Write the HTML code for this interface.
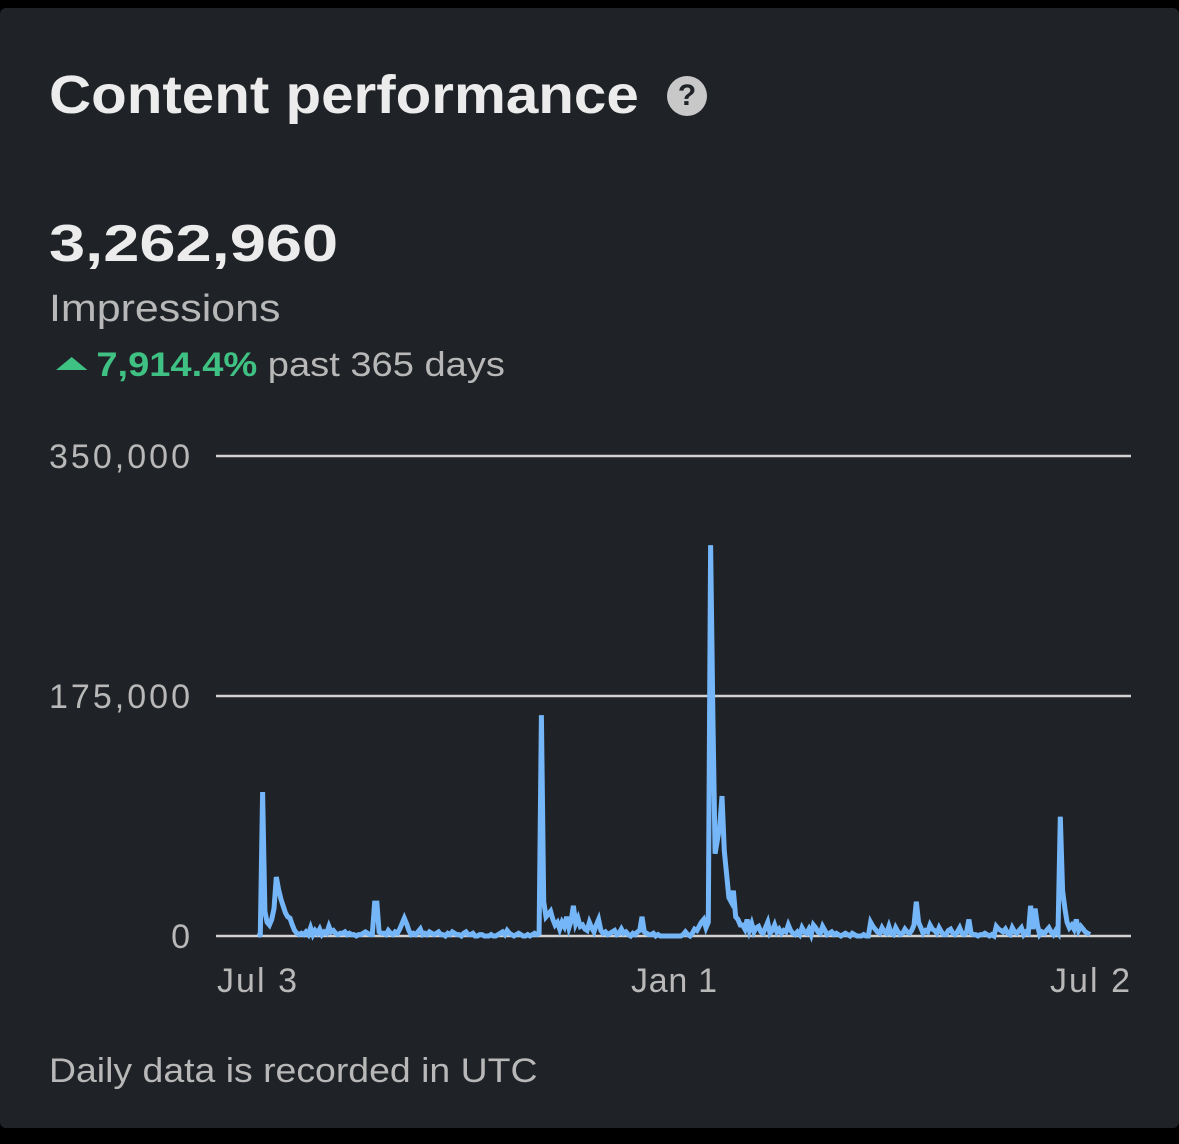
<!DOCTYPE html>
<html><head><meta charset="utf-8">
<style>
html,body{margin:0;padding:0;background:#000;width:1179px;height:1144px;overflow:hidden;font-family:"Liberation Sans",sans-serif;}
#card{position:absolute;left:0;top:8px;width:1179px;height:1120px;background:#1f2226;border-radius:6px;}
.t{position:absolute;white-space:nowrap;transform-origin:0 50%;}
</style></head><body>
<div id="card">
  <div class="t" style="left:49px;top:56px;font-size:54px;font-weight:bold;color:#ececec;transform:scaleX(1.08);">Content performance</div>
  <div style="position:absolute;left:667px;top:68px;width:40px;height:40px;border-radius:50%;background:#c8c8c8;color:#1f2226;font-weight:bold;font-size:30px;text-align:center;line-height:40px;">?</div>
  <div class="t" style="left:49px;top:206px;font-size:52px;font-weight:bold;color:#ececec;transform:scaleX(1.25);">3,262,960</div>
  <div class="t" style="left:49px;top:280px;font-size:38px;color:#b8b8b8;transform:scaleX(1.13);">Impressions</div>
  <div class="t" style="left:56px;top:338px;font-size:34px;color:#b8b8b8;transform:scaleX(1.12);"><span style="display:inline-block;width:0;height:0;border-left:14px solid transparent;border-right:14px solid transparent;border-bottom:13px solid #3fc184;vertical-align:middle;margin-right:8px;position:relative;top:-4px;"></span><span style="color:#3fc184;font-weight:bold;">7,914.4%</span> past 365 days</div>
  <div class="t" style="left:49px;top:1044px;font-size:34px;color:#b8b8b8;transform:scaleX(1.1);">Daily data is recorded in UTC</div>
</div>
<svg id="chart" width="1179" height="1144" style="position:absolute;left:0;top:0"></svg>
<script>
const yTicks=[0,175000,350000];
const yTickLabels=["0","175,000","350,000"];
const xTickDays=[0,182,364];
const xTickLabels=["Jul 3","Jan 1","Jul 2"];
const impressionsK=[
0,1,105,18,10,8,12,20,43,34,27,22,17,14,13,8,4,2,1,2,
1,3,1,6,1,4,2,5,1,3,2,7,3,4,2,1,2,2,3,1,
2,1,1,0,1,1,2,3,2,1,1,24,24,3,2,2,1,4,2,1,
3,2,5,9,13,9,4,1,2,1,3,5,1,2,1,3,2,1,2,3,
1,1,0,2,1,3,2,1,1,0,2,3,1,1,2,0,0,1,1,0,
0,0,1,0,0,1,2,3,1,4,2,1,0,1,2,1,0,0,1,0,
1,2,1,2,161,25,14,16,18,12,8,10,5,10,7,14,6,11,22,9,
13,7,8,5,4,10,6,3,8,12,4,2,3,1,2,3,4,1,2,5,
2,3,1,0,2,1,3,4,14,3,2,1,1,2,0,1,0,0,0,0,
0,0,0,0,0,0,1,3,1,0,2,5,4,7,10,12,6,10,285,160,
60,70,80,102,62,45,28,25,33,14,12,8,
8,5,12,4,9,3,6,7,3,2,6,10,2,4,8,3,5,2,4,3,
8,4,2,1,3,1,6,3,2,5,1,8,6,3,2,7,4,1,2,3,
1,2,1,0,1,2,1,0,2,1,0,0,0,1,0,0,10,7,5,3,
2,6,3,2,7,2,1,6,3,1,2,5,3,2,4,8,25,10,6,2,
4,3,8,5,4,2,6,3,1,1,4,5,2,1,3,6,2,1,3,12,
2,1,1,0,1,1,2,1,0,1,0,7,5,4,3,5,2,1,6,3,
2,4,6,1,3,2,22,5,20,8,1,3,2,4,6,3,1,4,2,87,
33,20,10,6,8,5,12,4,7,5,3,2,1
];
const NS="http://www.w3.org/2000/svg";
const svg=document.getElementById('chart');
const x0=258,x1=1090,yBase=936,yTop=456;
function xs(d){return x0+d*(x1-x0)/364;}
function ys(v){return yBase-v/350000*(yBase-yTop);}
function mk(tag,attrs){const e=document.createElementNS(NS,tag);for(const k in attrs)e.setAttribute(k,attrs[k]);svg.appendChild(e);return e;}
yTicks.forEach((v,i)=>{
  const g=mk('line',{x1:216,x2:1131,y1:ys(v),y2:ys(v),stroke:'#d2d2d2','stroke-width':2.5});
  
  
  const t=mk('text',{x:190,y:ys(v)+12,'text-anchor':'end','font-size':34,fill:'#b8b8b8','font-family':'Liberation Sans, sans-serif'});
  t.textContent=yTickLabels[i];
  if(yTickLabels[i].length===7){t.setAttribute('textLength',141);}
  
  
});
xTickDays.forEach((d,i)=>{
  const anchor=i===0?'start':(i===2?'end':'middle');
  const xx=i===0?217:(i===2?1130:xs(d));
  const t=mk('text',{x:xx,y:992,'text-anchor':anchor,'font-size':34,fill:'#b8b8b8','font-family':'Liberation Sans, sans-serif',textLength:[80,86,80][i]});
  t.textContent=xTickLabels[i];
  
  
});
const pts=impressionsK.map((v,d)=>xs(d).toFixed(1)+','+ys(v*1000).toFixed(1)).join(' ');
const line=mk('polyline',{points:pts,fill:'none',stroke:'#74b6f8','stroke-width':5,'stroke-linejoin':'miter'});


</script>
</body></html>
